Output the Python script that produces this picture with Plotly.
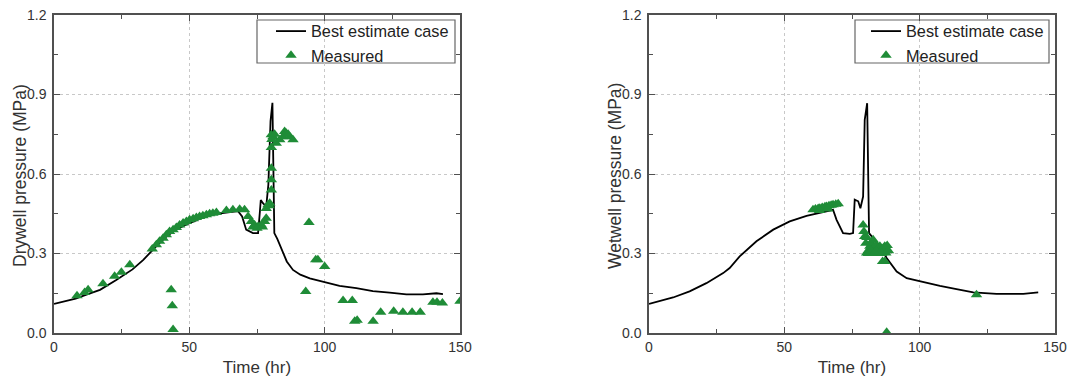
import plotly.graph_objects as go

# ---------------- data ----------------
dw_line_t = [0, 4, 8, 12, 17, 23, 29, 33, 36, 38, 41.5, 45, 49, 53, 56, 60, 64, 68, 69.5, 71, 73.5,
             75.4, 76, 76.4, 77.2, 78.4, 79.2, 80, 80.7, 81.1, 81.4, 82.5, 84.6, 86, 88.3, 91, 94.5,
             99.4, 100, 105.5, 111.7, 117.8, 124, 130.2, 136.3, 141.3, 143.7]
dw_line_p = [0.11, 0.12, 0.13, 0.145, 0.163, 0.20, 0.24, 0.276, 0.31, 0.33, 0.364, 0.39, 0.41, 0.428,
             0.44, 0.45, 0.456, 0.46, 0.44, 0.39, 0.377, 0.377, 0.45, 0.502, 0.49, 0.477, 0.56, 0.80,
             0.869, 0.60, 0.377, 0.355, 0.30, 0.27, 0.238, 0.22, 0.206, 0.194, 0.19, 0.178, 0.169,
             0.158, 0.152, 0.146, 0.146, 0.15, 0.147]

dw_meas_t = [8.5, 11.3, 12.6, 18.1, 22.4, 24.9, 28, 36.3, 43.3, 43.7, 44,
             37.8, 39, 40.3, 41.5, 42.7, 44, 45.2, 46.4, 47.7, 48.9, 50.1, 51.4, 52.6, 53.8, 55,
             56.3, 57.5, 58.7, 60, 63.7, 66.1, 68.6, 70.4, 71.7, 72.9, 74.1, 75.4, 76.6, 77.8,
             78.4, 78.4, 79.1, 79.7, 80.3, 80.3, 80.3, 80.3, 80.3, 80.9, 82.1, 83.4, 84.6, 85.2,
             85.8, 87.1, 88.3, 93, 94.2, 96.7, 97.5, 100, 106.8, 110.2, 111.1, 112, 117.9, 120.7,
             125.5, 128.9, 132.3, 135.3, 140, 141.5, 143.5, 150,
             73.5, 75, 77, 79.5, 80.5, 81.5, 86.5]
dw_meas_p = [0.141, 0.153, 0.163, 0.186, 0.214, 0.229, 0.258, 0.317, 0.163, 0.103, 0.013,
             0.333, 0.346, 0.358, 0.371, 0.383, 0.39, 0.398, 0.408, 0.415, 0.421, 0.427, 0.431,
             0.436, 0.44, 0.442, 0.446, 0.45, 0.452, 0.455, 0.462, 0.465, 0.467, 0.465, 0.44,
             0.421, 0.408, 0.402, 0.408, 0.421, 0.433, 0.47, 0.484, 0.49, 0.54, 0.578, 0.622,
             0.70, 0.748, 0.741, 0.716, 0.729, 0.741, 0.76, 0.754, 0.741, 0.729, 0.157, 0.417,
             0.276, 0.276, 0.251, 0.123, 0.123, 0.044, 0.048, 0.044, 0.078, 0.082, 0.078, 0.078,
             0.078, 0.116, 0.116, 0.113, 0.12,
             0.40, 0.395, 0.40, 0.48, 0.73, 0.75, 0.75]

ww_line_t = [0, 8.9, 15, 21.2, 27.4, 29.8, 33.5, 39.7, 45.9, 52, 58.2, 64.3, 68, 69.3, 71.7, 74.2,
             75.4, 76, 77.3, 78.1, 79.1, 79.7, 80.6, 81.3, 82.8, 85.3, 87.8, 91.5, 95.2, 100,
             107.5, 113.6, 119.8, 128.4, 138.3, 143.8]
ww_line_p = [0.11, 0.134, 0.157, 0.188, 0.226, 0.245, 0.289, 0.346, 0.39, 0.421, 0.442, 0.456,
             0.465, 0.427, 0.377, 0.374, 0.377, 0.503, 0.497, 0.471, 0.515, 0.804, 0.867, 0.377,
             0.358, 0.327, 0.283, 0.232, 0.207, 0.195, 0.178, 0.166, 0.153, 0.148, 0.148, 0.153]

ww_meas_t = [60.6, 61.5, 62.5, 63.1, 64, 65, 65.6, 66.5, 67.3, 68, 69, 69.9, 63, 66,
             79.1, 79.4, 79.7, 80.1, 80.4, 81, 81.6, 82.2, 82.8, 83.4, 84, 84.6, 85.3, 85.9, 86.5,
             87.1, 87.5, 87.1, 87.8, 121,
             81, 82, 83, 84, 85, 86, 88.5, 88, 86.3, 80.5]
ww_meas_p = [0.465, 0.468, 0.47, 0.471, 0.474, 0.476, 0.477, 0.48, 0.482, 0.484, 0.486, 0.488,
             0.462, 0.468,
             0.408, 0.383, 0.364, 0.339, 0.302, 0.31, 0.327, 0.34, 0.352, 0.32, 0.333, 0.31, 0.327,
             0.314, 0.32, 0.327, 0.302, 0.27, 0.003, 0.144,
             0.30, 0.31, 0.30, 0.31, 0.30, 0.30, 0.31, 0.33, 0.27, 0.36]

x_ticks = [0, 50, 100, 150]
y_ticks = [0.0, 0.3, 0.6, 0.9, 1.2]
y_tick_text = ["0.0", "0.3", "0.6", "0.9", "1.2"]
y_titles = ["Drywell pressure (MPa)", "Wetwell pressure (MPa)"]

# ---------------- figure ----------------
W, H = 1067, 385
GREEN = "#1f8c37"
FONT = "Liberation Sans, Arial, sans-serif"
TXT = "#333333"
AX = "#505050"

fig = go.Figure()
fig.add_trace(go.Scatter(x=dw_line_t, y=dw_line_p, mode="lines", name="Best estimate case",
                         line=dict(color="black", width=1.8), xaxis="x", yaxis="y", legend="legend"))
fig.add_trace(go.Scatter(x=dw_meas_t, y=dw_meas_p, mode="markers", name="Measured",
                         marker=dict(symbol="triangle-up", size=10, color=GREEN),
                         xaxis="x", yaxis="y", legend="legend"))
fig.add_trace(go.Scatter(x=ww_line_t, y=ww_line_p, mode="lines", name="Best estimate case",
                         line=dict(color="black", width=1.8), xaxis="x2", yaxis="y2", legend="legend2"))
fig.add_trace(go.Scatter(x=ww_meas_t, y=ww_meas_p, mode="markers", name="Measured",
                         marker=dict(symbol="triangle-up", size=10, color=GREEN),
                         xaxis="x2", yaxis="y2", legend="legend2"))

ydom = [1 - 333 / H, 1 - 15 / H]
dom1 = [54 / W, 460 / W]
dom2 = [649 / W, 1055 / W]


def xaxis(dom, anchor):
    return dict(domain=dom, anchor=anchor, range=[0, 150], tickvals=x_ticks, automargin=False,
                ticks="inside", ticklen=6, tickwidth=1.2, tickcolor=AX,
                minor=dict(dtick=25, tick0=0, ticks="inside", ticklen=4, tickcolor=AX, showgrid=False),
                showline=True, linecolor=AX, linewidth=1.5, mirror="ticks",
                showgrid=True, gridcolor="#c8c8c8", griddash="dot", gridwidth=1,
                zeroline=False, tickfont=dict(family=FONT, size=14, color=TXT),
                title=dict(text="Time (hr)", font=dict(family=FONT, size=17, color=TXT), standoff=8))


def yaxis(anchor):
    return dict(domain=ydom, anchor=anchor, range=[0, 1.2], tickvals=y_ticks, ticktext=y_tick_text,
                automargin=False, ticklabelstandoff=3,
                ticks="inside", ticklen=6, tickwidth=1.2, tickcolor=AX,
                minor=dict(dtick=0.15, tick0=0, ticks="inside", ticklen=4, tickcolor=AX, showgrid=False),
                showline=True, linecolor=AX, linewidth=1.5, mirror="ticks",
                showgrid=True, gridcolor="#c8c8c8", griddash="dot", gridwidth=1,
                zeroline=False, tickfont=dict(family=FONT, size=14, color=TXT))


def legend(xl):
    return dict(x=xl, xanchor="left", y=1 - 14 / H, yanchor="top",
                bgcolor="rgba(0,0,0,0)", borderwidth=0,
                font=dict(family=FONT, size=16.3, color="#222"),
                tracegroupgap=0)


def box(x0, x1):
    return dict(type="rect", xref="paper", yref="paper", x0=x0 / W, x1=x1 / W,
                y0=1 - 63 / H, y1=1 - 20 / H, line=dict(color="#666", width=1.2),
                fillcolor="white", layer="below")


def ytitle(xc, text):
    return dict(text=text, xref="paper", yref="paper", x=xc / W, y=1 - 176 / H,
                xanchor="center", yanchor="middle", textangle=-90, showarrow=False,
                font=dict(family=FONT, size=17.5, color=TXT))


fig.update_layout(
    width=W, height=H,
    margin=dict(l=0, r=0, t=0, b=0, autoexpand=False),
    paper_bgcolor="white", plot_bgcolor="white",
    xaxis=xaxis(dom1, "y"), yaxis=yaxis("x"),
    xaxis2=xaxis(dom2, "y2"), yaxis2=yaxis("x2"),
    legend=legend(271 / W), legend2=legend(866 / W),
    shapes=[box(257, 455), box(855, 1049)],
    annotations=[ytitle(20, y_titles[0]), ytitle(615, y_titles[1])],
    showlegend=True,
)

fig.write_html("out.html", config={"displayModeBar": False},
               post_script="document.body.style.margin='0';document.body.style.overflow='hidden';")
